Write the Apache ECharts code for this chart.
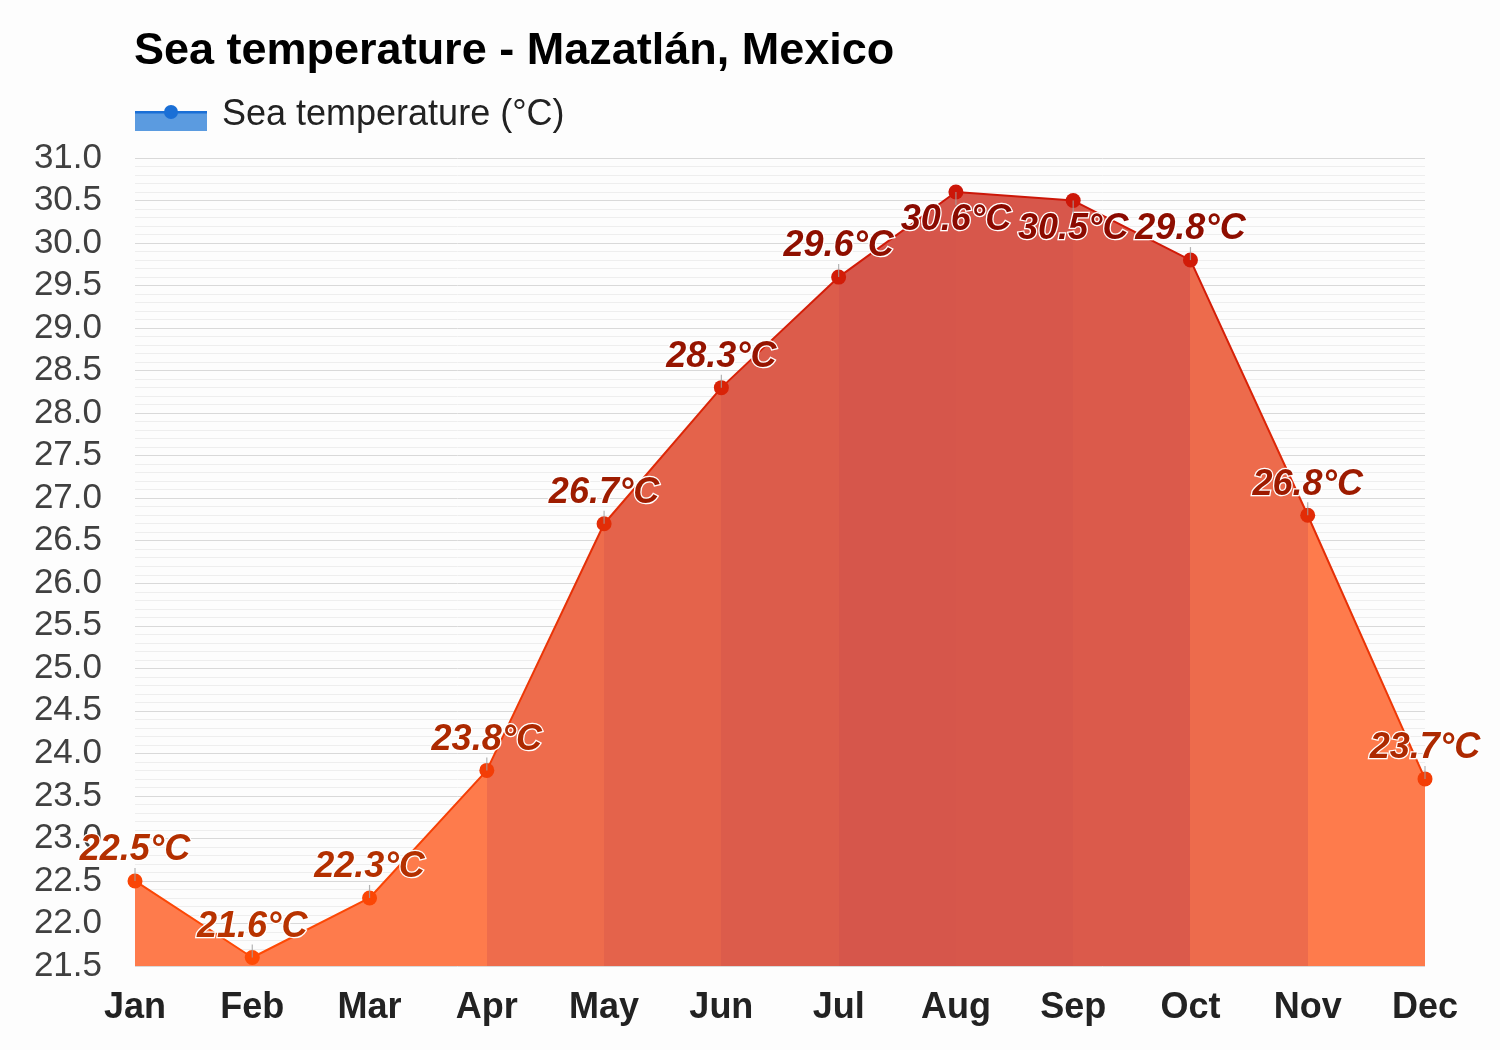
<!DOCTYPE html>
<html>
<head>
<meta charset="utf-8">
<script src="https://cdn.jsdelivr.net/npm/echarts@6/dist/echarts.min.js"></script>
<style>
html,body{margin:0;padding:0;background:#fdfdfd;}
#chart{width:1500px;height:1050px;}
</style>
</head>
<body>
<div id="chart"></div>
<script>
const months = ['Jan','Feb','Mar','Apr','May','Jun','Jul','Aug','Sep','Oct','Nov','Dec'];
const seaTemp = [22.5, 21.6, 22.3, 23.8, 26.7, 28.3, 29.6, 30.6, 30.5, 29.8, 26.8, 23.7];
const yMin = 21.5, yMax = 31.0, yStep = 0.5;
const chartTitle = 'Sea temperature - Mazatlán, Mexico';
const seriesName = 'Sea temperature (°C)';

function hex(c){return [parseInt(c.slice(1,3),16),parseInt(c.slice(3,5),16),parseInt(c.slice(5,7),16)];}
function mix(a,b,t){t=Math.max(0,Math.min(1,t));const A=hex(a),B=hex(b);
  return 'rgb('+A.map((v,i)=>Math.round(v+(B[i]-v)*t)).join(',')+')';}
const tLo = Math.min(...seaTemp), tHi = Math.max(...seaTemp);
function pointColor(v){return mix('#ff4a05','#cc1608',(v-tLo)/(tHi-tLo));}
function labelColor(v){return mix('#b83300','#8a0a00',(v-tLo)/(tHi-tLo));}
function fillColor(v){return mix('#fe7b4c','#d6564b',(v-24)/6.6);}
function below(v){return v > 30.2;}

const n = seaTemp.length;
const areaStops = [];
for (let i=0;i<n-1;i++){
  const c = fillColor(seaTemp[i+1]);
  areaStops.push({offset:i/(n-1),color:c});
  areaStops.push({offset:(i+1)/(n-1),color:c});
}
const lineStops = seaTemp.map((v,i)=>({offset:i/(n-1),color:pointColor(v)}));

const mainData = seaTemp.map(v=>({
  value:v,
  itemStyle:{color:pointColor(v)},
  label:{color:labelColor(v),position:below(v)?'bottom':'top',distance:below(v)?3:5}
}));
const tickData = seaTemp.map(v=>({value:v,symbolOffset:[0,below(v)?6.5:-6.5]}));

const chart = echarts.init(document.getElementById('chart'));
chart.setOption({
  backgroundColor:'#fdfdfd',
  animation:false,
  title:{text:chartTitle,left:129,top:24,textStyle:{fontFamily:'Liberation Sans, Arial, sans-serif',fontSize:45,fontWeight:'bold',color:'#000'}},
  legend:{
    data:[{name:seriesName,icon:'rect'}],
    left:135,top:92,itemWidth:72,itemHeight:20,itemGap:10,selectedMode:false,
    itemStyle:{opacity:0},
    textStyle:{fontFamily:'Liberation Sans, Arial, sans-serif',fontSize:36,color:'#222',padding:[0,0,0,5]}
  },
  graphic:[
    {type:'rect',left:135,top:113,shape:{width:72,height:18},style:{fill:'#5b9be0'},silent:true},
    {type:'rect',left:135,top:111,shape:{width:72,height:2.5},style:{fill:'#1a6fd6'},silent:true},
    {type:'circle',left:164,top:105,shape:{r:7},style:{fill:'#1a6fd6'},silent:true}
  ],
  grid:{left:135,right:75,top:158,bottom:84},
  xAxis:{
    type:'category',data:months,boundaryGap:false,
    axisLine:{show:false},axisTick:{show:false},splitLine:{show:false},
    axisLabel:{margin:24,fontFamily:'Liberation Sans, Arial, sans-serif',fontSize:36,fontWeight:'bold',color:'#222'}
  },
  yAxis:{
    type:'value',min:yMin,max:yMax,interval:yStep,
    axisLine:{show:false},axisTick:{show:false},
    axisLabel:{margin:33,fontFamily:'Liberation Sans, Arial, sans-serif',fontSize:35,color:'#404040',formatter:v=>v.toFixed(1)},
    splitLine:{show:true,lineStyle:{color:'#d9d9d9',width:1}},
    minorTick:{show:false,splitNumber:5},
    minorSplitLine:{show:true,lineStyle:{color:'#eeeeee',width:1}}
  },
  series:[
    {
      name:seriesName,type:'line',data:mainData,z:2,
      symbol:'circle',symbolSize:15,
      lineStyle:{width:2,color:new echarts.graphic.LinearGradient(0,0,1,0,lineStops)},
      areaStyle:{opacity:1,color:new echarts.graphic.LinearGradient(0,0,1,0,areaStops)},
      label:{show:true,formatter:p=>p.value.toFixed(1)+'°C',fontFamily:'Liberation Sans, Arial, sans-serif',
        fontSize:36,fontWeight:'bold',fontStyle:'italic',textBorderColor:'#ffffff',textBorderWidth:2.5},
      emphasis:{disabled:true}
    },
    {
      name:'sep',type:'bar',data:seaTemp,barWidth:1.2,z:1.5,silent:true,
      itemStyle:{color:'rgba(255,255,255,0.3)'},emphasis:{disabled:true}
    },
    {
      name:'tick',type:'scatter',data:tickData,z:3,silent:true,
      symbol:'rect',symbolSize:[1.2,13],itemStyle:{color:'#a0a0a0'},emphasis:{disabled:true}
    }
  ]
});
</script>
</body>
</html>
